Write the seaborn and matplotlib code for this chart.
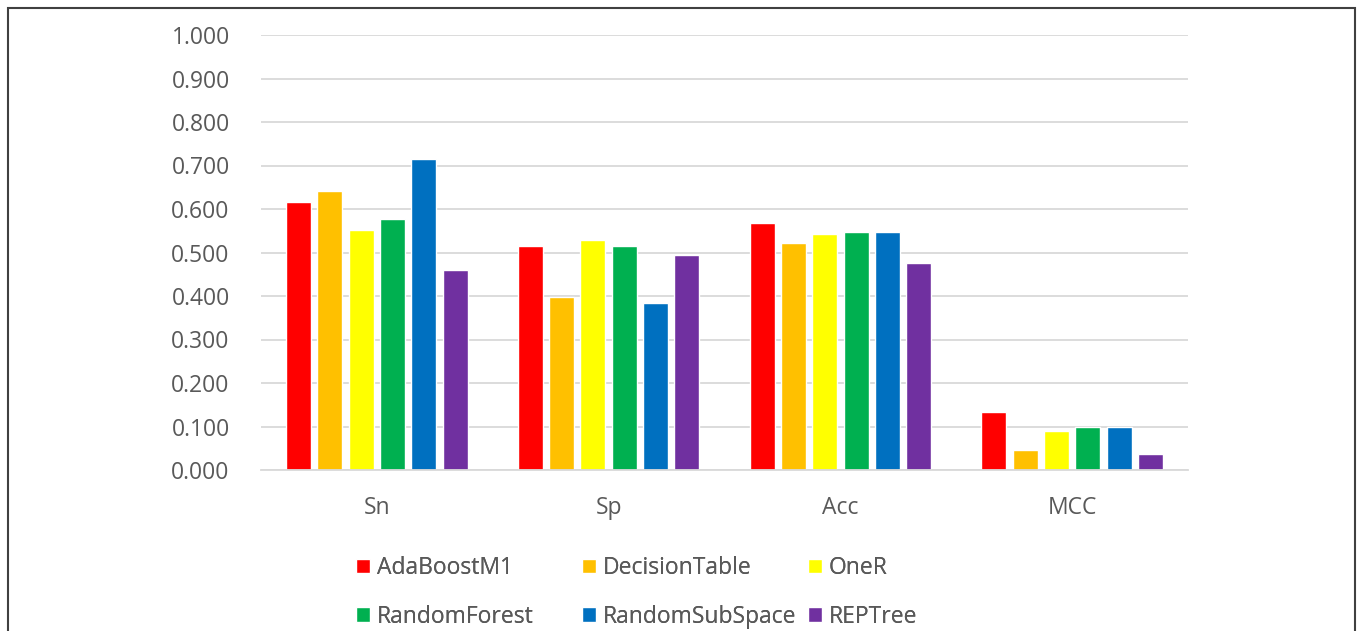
import matplotlib
matplotlib.use("Agg")
import matplotlib.pyplot as plt
import matplotlib.patches as mpatches
import seaborn as sns
import pandas as pd

# Metrics and classifier scores
metrics = ["Sn", "Sp", "Acc", "MCC"]
classifiers = ["AdaBoostM1", "DecisionTable", "OneR", "RandomForest", "RandomSubSpace", "REPTree"]
ada_boost = [0.615, 0.516, 0.568, 0.133]
decision_table = [0.641, 0.397, 0.521, 0.046]
one_r = [0.552, 0.529, 0.542, 0.090]
random_forest = [0.577, 0.516, 0.546, 0.099]
random_subspace = [0.714, 0.383, 0.546, 0.099]
rep_tree = [0.460, 0.495, 0.476, 0.037]
y_ticks = [0.0, 0.1, 0.2, 0.3, 0.4, 0.5, 0.6, 0.7, 0.8, 0.9, 1.0]

colors = ["#FF0000", "#FFC000", "#FFFF00", "#00B050", "#0070C0", "#7030A0"]
text_color = "#595959"
grid_color = "#D9D9D9"
font_size = 16.5

series = [ada_boost, decision_table, one_r, random_forest, random_subspace, rep_tree]
rows = []
for name, vals in zip(classifiers, series):
    for m, v in zip(metrics, vals):
        rows.append({"Metric": m, "Classifier": name, "Score": v})
df = pd.DataFrame(rows)

sns.set_theme(style="white")
plt.rcParams["font.family"] = ["Open Sans", "DejaVu Sans"]

fig = plt.figure(figsize=(13.6, 6.31), dpi=100)
ax = fig.add_axes([261 / 1360, 1 - 470 / 631, (1188 - 261) / 1360, (470 - 35) / 631])

sns.barplot(data=df, x="Metric", y="Score", hue="Classifier", order=metrics,
            hue_order=classifiers, palette=colors, width=0.81, gap=0.2,
            saturation=1, ax=ax, legend=True)

ax.set_ylim(0, 1.0)
ax.set_xlim(-0.5, 3.5)
ax.set_yticks(y_ticks)
ax.set_yticklabels([f"{t:.3f}" for t in y_ticks])
ax.set_xlabel("")
ax.set_ylabel("")
ax.yaxis.grid(True, color=grid_color, linewidth=1.3)
ax.set_axisbelow(True)
for s in ["top", "left", "right"]:
    ax.spines[s].set_visible(False)
ax.spines["bottom"].set_color(grid_color)
ax.spines["bottom"].set_linewidth(1.3)
ax.tick_params(axis="y", length=0, pad=22.5, labelsize=font_size, labelcolor=text_color)
ax.tick_params(axis="x", length=0, pad=18.7, labelsize=font_size, labelcolor=text_color)

# Legend: three fixed-width columns, entries filled row by row
handles, labels = ax.get_legend_handles_labels()
ax.get_legend().remove()
column_x = [356, 582, 808]
for col, x in enumerate(column_x):
    idx = [col, col + 3]
    leg = fig.legend([handles[i] for i in idx], [labels[i] for i in idx],
                     loc="upper left", bbox_to_anchor=(x / 1360, 1 - 556 / 631),
                     frameon=False, fontsize=font_size, labelcolor=text_color,
                     handlelength=0.62, handleheight=0.62, handletextpad=0.28,
                     borderpad=0, borderaxespad=0, labelspacing=1.08)
    fig.add_artist(leg)

# Chart border
fig.patches.append(mpatches.Rectangle((8 / 1360, -0.05), (1355 - 8) / 1360, 1 - 8 / 631 + 0.05,
                                      transform=fig.transFigure, fill=False,
                                      edgecolor="#404040", linewidth=1.5))

fig.savefig("out.png", dpi=100, facecolor="white")
